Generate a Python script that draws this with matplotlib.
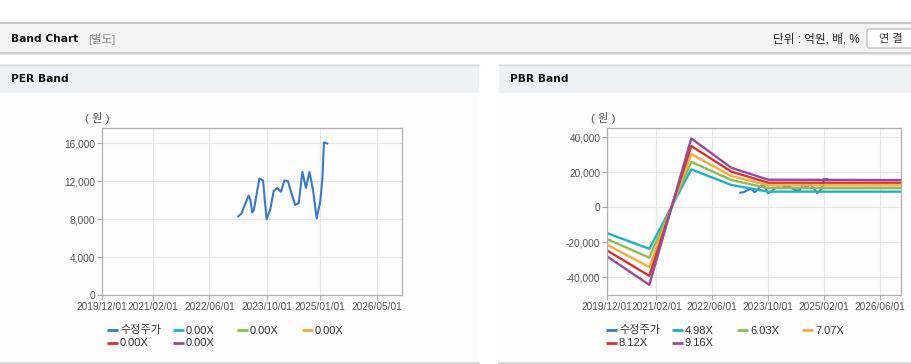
import matplotlib
matplotlib.use("Agg")
import matplotlib.pyplot as plt
from matplotlib.patches import Rectangle, FancyBboxPatch
import pandas as pd

plt.rcParams['font.family'] = ['Liberation Sans', 'Noto Sans CJK KR', 'DejaVu Sans']

# ── data ─────────────────────────────────────────────────────────────────────
price_dates = ["2023-02-01", "2023-03-01", "2023-04-01", "2023-05-01", "2023-05-15",
               "2023-06-01", "2023-06-15", "2023-08-01", "2023-09-01", "2023-10-01",
               "2023-11-01", "2023-12-01", "2024-01-01", "2024-02-01", "2024-03-01",
               "2024-04-01", "2024-05-01", "2024-06-01", "2024-07-01", "2024-08-01",
               "2024-09-01", "2024-10-01", "2024-11-01", "2024-12-01", "2025-01-01",
               "2025-01-20", "2025-02-01", "2025-03-01"]
price_values = [8300, 8600, 9600, 10500, 10100,
                8700, 9000, 12300, 12100, 8000,
                9000, 11000, 11300, 10900, 12100,
                12000, 10700, 9500, 9700, 13000,
                11300, 13000, 11000, 8100, 9900,
                12500, 16100, 16000]

band_dates = ["2019-12-01", "2020-12-01", "2021-12-01", "2022-11-15", "2023-10-01", "2026-12-01"]
pbr_498 = [-14800, -23700, 21600, 12700, 8900, 8900]
pbr_603 = [-18200, -28700, 25900, 15500, 10900, 10900]
pbr_707 = [-21400, -34100, 30300, 17800, 12500, 12500]
pbr_812 = [-24700, -39100, 34900, 20300, 14000, 14000]
pbr_916 = [-28100, -44200, 39200, 22500, 15700, 15500]

per_labels = ["수정주가", "0.00X", "0.00X", "0.00X", "0.00X", "0.00X"]
pbr_labels = ["수정주가", "4.98X", "6.03X", "7.07X", "8.12X", "9.16X"]

per_ticks = ["2019/12/01", "2021/02/01", "2022/06/01", "2023/10/01", "2025/01/01", "2026/05/01"]
pbr_ticks = ["2019/12/01", "2021/02/01", "2022/06/01", "2023/10/01", "2025/02/01", "2026/06/01"]
per_yticks = [0, 4000, 8000, 12000, 16000]
pbr_yticks = [-40000, -20000, 0, 20000, 40000]

colors = ["#3a78cc", "#1db3c3", "#8dbb58", "#f2ae3c", "#d5352d", "#994a9c"]

W, H = 912, 364
TXT = "#555555"
BOLD = ['DejaVu Sans', 'Noto Sans CJK KR']


def rect(l, t, r, b):
    return [l / W, 1 - b / H, (r - l) / W, (b - t) / H]


fig = plt.figure(figsize=(W / 100, H / 100), dpi=100)
fig.patch.set_facecolor("white")

# ── page chrome (pixel coords) ───────────────────────────────────────────────
bg = fig.add_axes([0, 0, 1, 1], zorder=0)
bg.set_xlim(0, W)
bg.set_ylim(H, 0)
bg.axis("off")

bg.add_patch(Rectangle((0, 22), W, 31, facecolor="#f4f4f4", edgecolor="none"))
bg.plot([0, W], [22.5, 22.5], color="#bdbdbd", lw=1.2)
bg.plot([0, W], [52.5, 52.5], color="#c4c4c4", lw=1.2)
bg.plot([0, W], [53.8, 53.8], color="#e6e6e6", lw=1)
bg.text(11, 38.5, "Band Chart", fontsize=7.7, fontweight="bold", color="#111111",
        va="center", family=BOLD)
bg.text(88, 39, "[별도]", fontsize=8.2, color="#8a8a8a", va="center")
bg.text(860, 39, "단위 : 억원, 배, %", fontsize=8.4, color="#222222", va="center", ha="right")
bg.add_patch(FancyBboxPatch((867, 29), 60, 19, boxstyle="round,pad=0,rounding_size=2",
                            facecolor="white", edgecolor="#b5b5b5", lw=0.8))
bg.text(891, 39, "연 결", fontsize=8, color="#333333", va="center", ha="center")

for x0, x1, title in [(0, 479, "PER Band"), (499, W, "PBR Band")]:
    bg.add_patch(Rectangle((x0, 64), x1 - x0, 298, facecolor="#fdfdfd", edgecolor="none"))
    bg.add_patch(Rectangle((x0, 64), x1 - x0, 28.5, facecolor="#eef1f6", edgecolor="none"))
    bg.plot([x0, x1], [64.5, 64.5], color="#d6d6d6", lw=1)
    bg.plot([x0, x1], [362.5, 362.5], color="#d0d0d0", lw=1.2)
    bg.text(x0 + 11, 79.5, title, fontsize=7.7, fontweight="bold", color="#111111",
            va="center", family=BOLD)


def style_axes(ax, ticks, ylim, yticks):
    ax.set_facecolor("none")
    ax.set_xlim(pd.Timestamp("2019-12-01"), pd.Timestamp("2026-12-01"))
    ax.set_ylim(*ylim)
    ax.set_xticks(pd.to_datetime([t.replace("/", "-") for t in ticks]))
    ax.set_xticklabels(ticks)
    ax.set_yticks(yticks)
    ax.set_yticklabels([f"{v:,}" for v in yticks])
    ax.tick_params(labelsize=7.3, colors=TXT, length=3.5, width=0.8, pad=1.5, color="#aaaaaa")
    ax.grid(color="#e6e6e6", lw=0.8)
    ax.set_axisbelow(True)
    for s in ax.spines.values():
        s.set_color("#b0b0b0")
        s.set_linewidth(0.9)


def legend(x_cols, labels):
    rows = [330, 343]
    for i, (lab, c) in enumerate(zip(labels, colors)):
        x = x_cols[i % 4]
        y = rows[i // 4]
        bg.plot([x, x + 11], [y, y], color=c, lw=2, solid_capstyle="butt")
        bg.text(x + 13, y + 0.5, lab, fontsize=8, color="#333333", va="center")


# ── PER band ─────────────────────────────────────────────────────────────────
ax1 = fig.add_axes(rect(102.3, 128.3, 402.3, 295), zorder=2)
ax1.plot(pd.to_datetime(price_dates), price_values, color=colors[0], lw=1.5)
style_axes(ax1, per_ticks, (0, 17600), per_yticks)
bg.text(97, 118, "( 원 )", fontsize=8.2, color=TXT, va="center", ha="center")
legend([107, 173, 237, 302], per_labels)

# ── PBR band ─────────────────────────────────────────────────────────────────
ax2 = fig.add_axes(rect(607.3, 128.3, 901, 295), zorder=2)
ax2.plot(pd.to_datetime(price_dates), price_values, color=colors[0], lw=1.5, zorder=1)
bd = pd.to_datetime(band_dates)
for vals, c in zip([pbr_498, pbr_603, pbr_707, pbr_812, pbr_916], colors[1:]):
    ax2.plot(bd, vals, color=c, lw=1.7, zorder=2)
style_axes(ax2, pbr_ticks, (-50000, 45000), pbr_yticks)
bg.text(603, 118, "( 원 )", fontsize=8.2, color=TXT, va="center", ha="center")
legend([606, 672, 737, 802], pbr_labels)

fig.savefig("out.png", dpi=100)
